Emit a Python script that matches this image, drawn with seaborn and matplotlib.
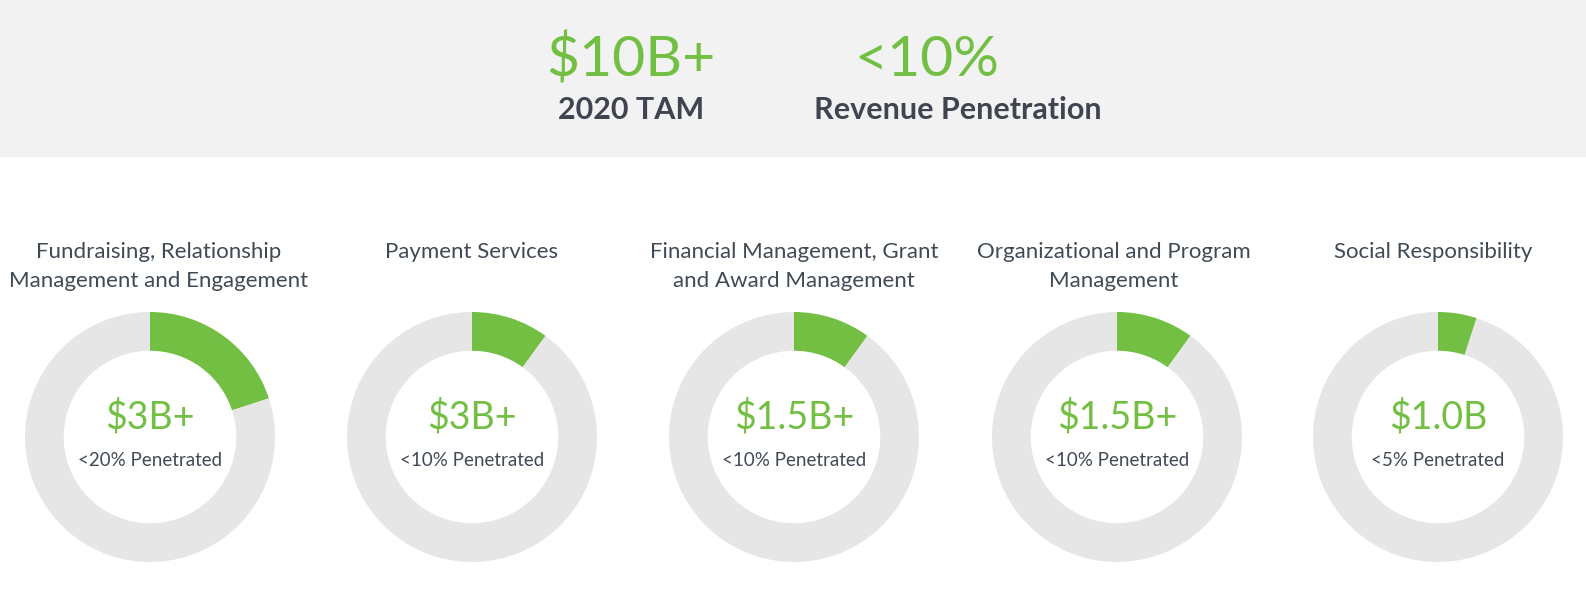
import matplotlib
matplotlib.use("Agg")
import matplotlib.pyplot as plt
from matplotlib.patches import Rectangle
import seaborn as sns

sns.set_theme(style="white")
plt.rcParams['font.family'] = ['Lato', 'DejaVu Sans']

# ---- data ----
headline_values = ["$10B+", "<10%"]
headline_labels = ["2020 TAM", "Revenue Penetration"]
categories = [
    "Fundraising, Relationship\nManagement and Engagement",
    "Payment Services",
    "Financial Management, Grant\nand Award Management",
    "Organizational and Program\nManagement",
    "Social Responsibility",
]
market_sizes = ["$3B+", "$3B+", "$1.5B+", "$1.5B+", "$1.0B"]
penetration_labels = ["<20% Penetrated", "<10% Penetrated", "<10% Penetrated",
                      "<10% Penetrated", "<5% Penetrated"]
penetration = [0.20, 0.10, 0.10, 0.10, 0.05]

GREEN = "#72BF44"
RING = "#E6E6E6"
DARK = "#3F4450"
TXT = "#404A55"

W, H = 1586, 590
fig = plt.figure(figsize=(W / 100, H / 100), dpi=100)
fig.patch.set_facecolor("white")

# top band
fig.patches.append(Rectangle((0, 1 - 157 / H), 1, 157 / H, transform=fig.transFigure,
                             facecolor="#F2F2F2", edgecolor="none", zorder=0))

head_x = [631, 927]
lab_x = [631, 958]
for v, l, hx, lx in zip(headline_values, headline_labels, head_x, lab_x):
    fig.text(hx / W, 1 - 60 / H, v, ha="center", va="center", color=GREEN,
             fontsize=41, fontweight="normal")
    fig.text(lx / W, 1 - 110 / H, l, ha="center", va="center", color=DARK,
             fontsize=22, fontweight="bold")

centers = [150, 472, 794, 1117, 1438]
title_x = [159, 472, 794, 1114, 1433]
R = 125
CY = 437
for cat, ms, pl, p, cx, tx in zip(categories, market_sizes, penetration_labels,
                                   penetration, centers, title_x):
    ax = fig.add_axes([(cx - R) / W, (H - CY - R) / H, 2 * R / W, 2 * R / H])
    ax.pie([p, 1 - p], colors=[GREEN, RING], startangle=90, counterclock=False,
           radius=1, wedgeprops=dict(width=0.31, edgecolor="none"))
    ax.set_xlim(-1, 1)
    ax.set_ylim(-1, 1)
    ax.axis("off")
    ax.text(0, 0.16, ms, ha="center", va="center", color=GREEN, fontsize=27,
            fontweight="normal")
    ax.text(0, -0.19, pl, ha="center", va="center", color=TXT, fontsize=13.5)
    fig.text(tx / W, 1 - 242 / H, cat, ha="center", va="top", color=TXT,
             fontsize=16, linespacing=1.58)

fig.savefig("out.png", dpi=100, facecolor="white")
